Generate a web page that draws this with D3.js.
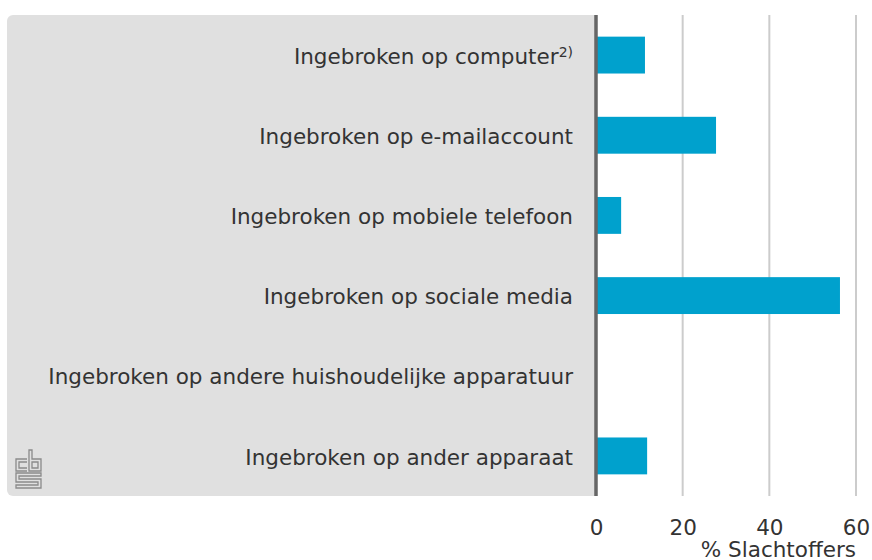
<!DOCTYPE html>
<html>
<head>
<meta charset="utf-8">
<script src="https://cdn.jsdelivr.net/npm/d3@7"></script>
<style>
  body { margin: 0; background: #fff; }
  text { font-family: "DejaVu Sans", sans-serif; fill: #333; }
</style>
</head>
<body>
<div id="chart"></div>
<script>
// categories and values (% slachtoffers)
var categories = [
  "Ingebroken op computer",
  "Ingebroken op e-mailaccount",
  "Ingebroken op mobiele telefoon",
  "Ingebroken op sociale media",
  "Ingebroken op andere huishoudelijke apparatuur",
  "Ingebroken op ander apparaat"
];
var footnotes = ["2)", "", "", "", "", ""];
var values = [11.3, 27.7, 5.8, 56.3, null, 11.8];
var xTicks = [0, 20, 40, 60];
var xTitle = "% Slachtoffers";

var svgWidth = 872, svgHeight = 560;
var margin = { top: 15, right: 16, bottom: 64, left: 596 };
var width = svgWidth - margin.left - margin.right;
var height = svgHeight - margin.top - margin.bottom;
var fontSize = "21.5px";

var svg = d3.select("#chart")
  .append("svg")
  .attr("width", svgWidth)
  .attr("height", svgHeight);

// grey label panel
svg.append("rect")
  .attr("x", 7)
  .attr("y", margin.top)
  .attr("width", margin.left - 7)
  .attr("height", height)
  .attr("rx", 6)
  .attr("fill", "#e0e0e0");
svg.append("rect")
  .attr("x", margin.left - 10)
  .attr("y", margin.top)
  .attr("width", 10)
  .attr("height", height)
  .attr("fill", "#e0e0e0");

var chartGroup = svg.append("g")
  .attr("transform", `translate(${margin.left}, ${margin.top})`);

var xScale = d3.scaleLinear()
  .domain([0, 60])
  .range([0, 260]);

var yScale = d3.scaleBand()
  .domain(categories)
  .range([0, height])
  .paddingInner(0.54)
  .paddingOuter(0.27);

// gridlines
chartGroup.selectAll("line.grid")
  .data(xTicks.filter(d => d > 0))
  .enter()
  .append("line")
  .attr("class", "grid")
  .attr("x1", d => xScale(d))
  .attr("x2", d => xScale(d))
  .attr("y1", 0)
  .attr("y2", height)
  .attr("stroke", "#cccccc")
  .attr("stroke-width", 2);

// bars
chartGroup.selectAll("rect.bar")
  .data(categories.map((c, i) => ({ cat: c, v: values[i] })).filter(d => d.v != null))
  .enter()
  .append("rect")
  .attr("class", "bar")
  .attr("x", xScale(0))
  .attr("y", d => yScale(d.cat))
  .attr("width", d => xScale(d.v) - xScale(0))
  .attr("height", yScale.bandwidth())
  .attr("fill", "#00a1cd");

// zero axis line
chartGroup.append("line")
  .attr("x1", xScale(0))
  .attr("x2", xScale(0))
  .attr("y1", 0)
  .attr("y2", height)
  .attr("stroke", "#666666")
  .attr("stroke-width", 3.5);

// category labels
var labels = chartGroup.selectAll("text.cat")
  .data(categories)
  .enter()
  .append("text")
  .attr("class", "cat")
  .attr("x", -23)
  .attr("y", d => yScale(d) + yScale.bandwidth() / 2)
  .attr("dy", "0.4em")
  .attr("text-anchor", "end")
  .style("font-size", fontSize);
labels.append("tspan").text(d => d);
labels.filter((d, i) => footnotes[i] !== "")
  .append("tspan")
  .attr("dy", "-0.5em")
  .style("font-size", "14px")
  .text(d => footnotes[categories.indexOf(d)]);

// x axis
var xAxis = d3.axisBottom(xScale).tickValues(xTicks).tickSize(0).tickPadding(24);
var axisG = chartGroup.append("g")
  .attr("transform", `translate(0, ${height})`)
  .call(xAxis);
axisG.select(".domain").remove();
axisG.selectAll("text")
  .style("font-size", fontSize)
  .style("font-family", "DejaVu Sans, sans-serif")
  .attr("fill", "#333");

chartGroup.append("text")
  .attr("x", xScale(60))
  .attr("y", height + 61)
  .attr("text-anchor", "end")
  .style("font-size", fontSize)
  .text(xTitle);

// cbs logo
var logo = svg.append("g")
  .attr("transform", "translate(15, 450)")
  .attr("fill", "none")
  .attr("stroke", "#8a8a8a")
  .attr("stroke-width", 1.3);
logo.append("path").attr("d", "M12,9 H1 V21 H12 M12,12 H4 V18 H12");
logo.append("path").attr("d", "M14,0 V21 H26 V9 H17 V0 Z M17,12 H23 V18 H17 Z");
logo.append("path").attr("d", "M26,23 H1 V32 H23 V35 H1 V38 H26 V29 H4 V26 H26 Z");
</script>
</body>
</html>
